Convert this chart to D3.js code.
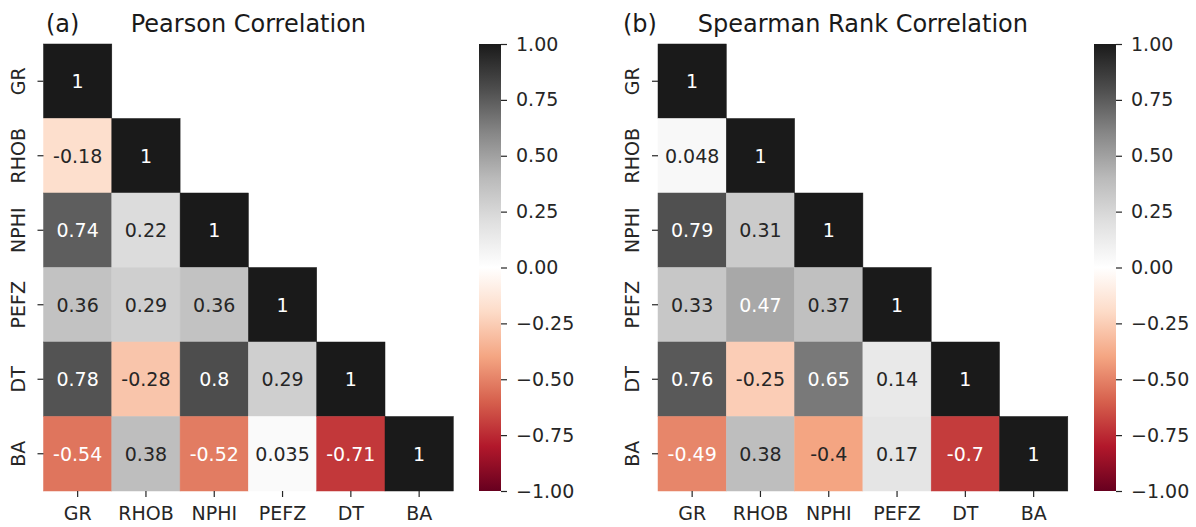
<!DOCTYPE html>
<html>
<head>
<meta charset="utf-8">
<script src="https://cdn.jsdelivr.net/npm/d3@7"></script>
<style>
  body { margin: 0; background: #fff; }
  svg text { font-family: "DejaVu Sans", sans-serif; }
</style>
<title>Correlation heatmaps</title>
</head>
<body>
<div id="chart"></div>
<script>
// well log names, same order on both axes
var logs = ["GR", "RHOB", "NPHI", "PEFZ", "DT", "BA"];

// lower triangle, row by row (diagonal included)
var pearson = [
  [1],
  [-0.18, 1],
  [0.74, 0.22, 1],
  [0.36, 0.29, 0.36, 1],
  [0.78, -0.28, 0.8, 0.29, 1],
  [-0.54, 0.38, -0.52, 0.035, -0.71, 1]
];
var spearman = [
  [1],
  [0.048, 1],
  [0.79, 0.31, 1],
  [0.33, 0.47, 0.37, 1],
  [0.76, -0.25, 0.65, 0.14, 1],
  [-0.49, 0.38, -0.4, 0.17, -0.7, 1]
];
var cbarTicks = [-1, -0.75, -0.5, -0.25, 0, 0.25, 0.5, 0.75, 1];

var width = 1196, height = 527;
var svg = d3.select("#chart").append("svg")
  .attr("width", width).attr("height", height);

var marginTop = 44, cellW = 68.3, cellH = 74.5;
var W = cellW * logs.length, H = cellH * logs.length;

// RdGy_r, linear between the 11 brewer colours like matplotlib does
var color = d3.scaleLinear()
  .domain(d3.range(11).map(function(i){ return -1 + i * 0.2; }))
  .range(d3.schemeRdGy[11]);

var defs = svg.append("defs");
var grad = defs.append("linearGradient").attr("id", "cbar")
  .attr("x1", 0).attr("y1", 1).attr("x2", 0).attr("y2", 0);
d3.range(11).forEach(function(i){
  grad.append("stop").attr("offset", i / 10).attr("stop-color", color(-1 + i * 0.2));
});

function panel(data, x0, title, tag, tagX, cbarX){
  var g = svg.append("g").attr("transform", "translate(" + x0 + "," + marginTop + ")");
  var x = d3.scaleBand().domain(logs).range([0, W]);
  var y = d3.scaleBand().domain(logs).range([0, H]);

  var cells = [];
  data.forEach(function(row, i){
    row.forEach(function(v, j){ cells.push({r: logs[i], c: logs[j], v: v}); });
  });

  g.selectAll("rect.cell").data(cells).enter().append("rect")
    .attr("class", "cell")
    .attr("x", function(d){ return x(d.c); })
    .attr("y", function(d){ return y(d.r); })
    .attr("width", x.bandwidth())
    .attr("height", y.bandwidth())
    .attr("fill", function(d){ return color(d.v); })
    .attr("stroke", function(d){ return color(d.v); })
    .attr("stroke-width", 0.5);

  g.selectAll("text.annot").data(cells).enter().append("text")
    .attr("class", "annot")
    .attr("x", function(d){ return x(d.c) + x.bandwidth() / 2; })
    .attr("y", function(d){ return y(d.r) + y.bandwidth() / 2; })
    .attr("dy", "0.36em")
    .attr("text-anchor", "middle")
    .attr("font-size", 19)
    .attr("fill", function(d){ return Math.abs(d.v) > 0.45 ? "#ffffff" : "#262626"; })
    .text(function(d){ return String(d.v); });

  var xa = g.append("g").attr("transform", "translate(0," + H + ")")
    .call(d3.axisBottom(x).tickSize(6).tickPadding(9.5));
  var ya = g.append("g")
    .call(d3.axisLeft(y).tickSize(6));
  [xa, ya].forEach(function(a){
    a.select(".domain").remove();
    a.selectAll("line").attr("stroke", "#262626").attr("stroke-width", 1.2);
    a.selectAll("text").attr("font-size", 19).attr("fill", "#262626")
      .attr("font-family", "DejaVu Sans");
  });
  ya.selectAll("text")
    .attr("transform", "rotate(-90)")
    .attr("text-anchor", "middle")
    .attr("x", 0).attr("y", -25.5).attr("dy", "0.35em");

  svg.append("text").attr("x", x0 + W / 2).attr("y", 32)
    .attr("text-anchor", "middle").attr("font-size", 24).attr("fill", "#1a1a1a")
    .text(title);
  svg.append("text").attr("x", tagX).attr("y", 32)
    .attr("font-size", 24).attr("fill", "#1a1a1a")
    .text(tag);

  // colour bar
  var cb = svg.append("g").attr("transform", "translate(" + cbarX + "," + marginTop + ")");
  cb.append("rect").attr("width", 22).attr("height", H).attr("fill", "url(#cbar)");
  var cy = d3.scaleLinear().domain([-1, 1]).range([H, 0]);
  var ca = cb.append("g").attr("transform", "translate(22,0)")
    .call(d3.axisRight(cy).tickValues(cbarTicks).tickFormat(d3.format(".2f"))
      .tickSize(6).tickPadding(9));
  ca.select(".domain").remove();
  ca.selectAll("line").attr("stroke", "#262626").attr("stroke-width", 1.2);
  ca.selectAll("text").attr("font-size", 19).attr("fill", "#262626")
    .attr("font-family", "DejaVu Sans");
}

panel(pearson, 43.5, "Pearson Correlation", "(a)", 46, 479);
panel(spearman, 658, "Spearman Rank Correlation", "(b)", 623, 1094);
</script>
</body>
</html>
